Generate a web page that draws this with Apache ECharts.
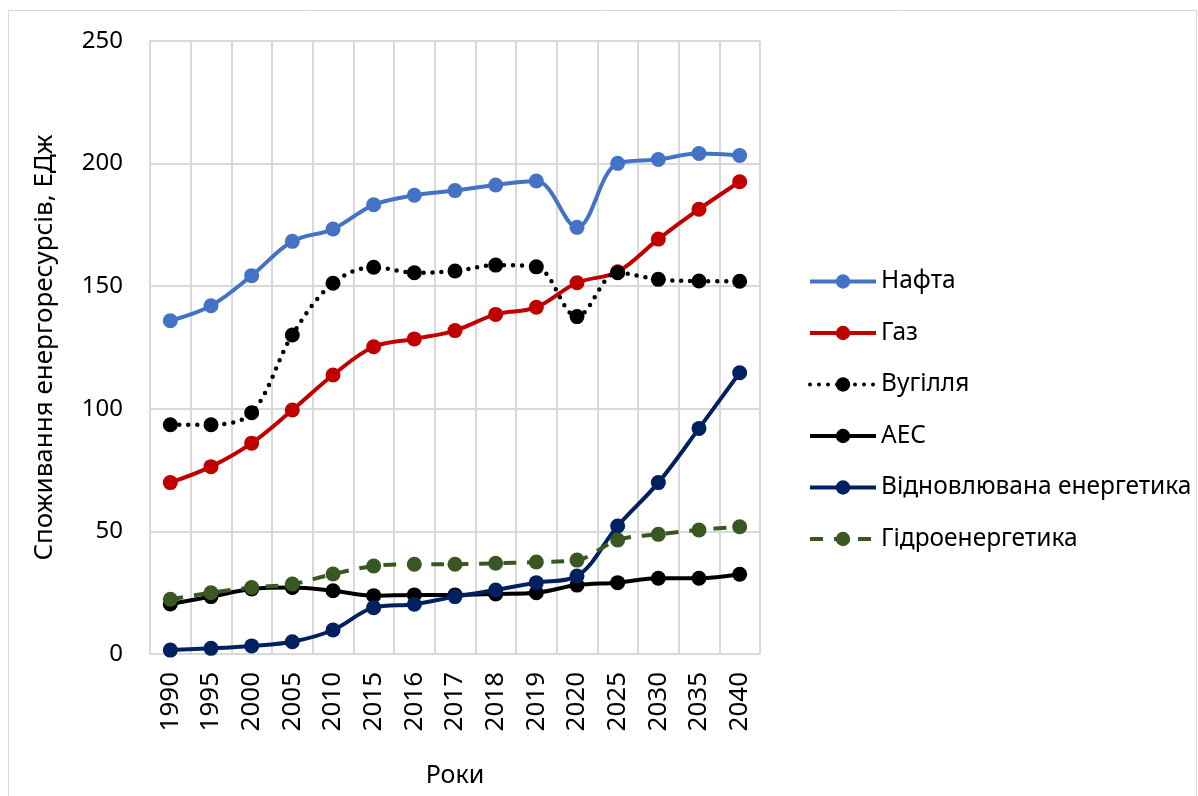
<!DOCTYPE html>
<html><head><meta charset="utf-8">
<script src="https://cdn.jsdelivr.net/npm/echarts@6/dist/echarts.min.js"></script>
<style>html,body{margin:0;padding:0;background:#fff}#c{width:1198px;height:796px}</style>
</head><body><div id="c"></div>
<script>
const years = ['1990','1995','2000','2005','2010','2015','2016','2017','2018','2019','2020','2025','2030','2035','2040'];
const naftaName = 'Нафта';
const nafta = [135.9,142,154.3,168.3,173.3,183.2,187.1,189,191.3,192.9,174,200.1,201.7,204.1,203.3];
const gazName = 'Газ';
const gaz = [69.9,76.4,86,99.5,113.8,125.3,128.5,131.9,138.5,141.4,151.4,155.9,169.2,181.4,192.6];
const coalName = 'Вугілля';
const coal = [93.5,93.5,98.4,130.1,151.2,157.7,155.5,156.2,158.6,157.9,137.6,155.5,152.8,152.1,152];
const aesName = 'АЕС';
const aes = [20.4,23.4,26.5,27.1,25.8,23.8,24.1,24.1,24.5,25,28.1,29.1,30.9,30.9,32.5];
const renName = 'Відновлювана енергетика';
const ren = [1.6,2.3,3.3,5,9.8,18.9,20.3,23.4,26.1,29.1,31.8,52.2,69.9,92,114.7];
const hydroName = 'Гідроенергетика';
const hydro = [22.3,25,27.1,28.5,32.6,35.9,36.6,36.6,37,37.5,38.3,46.5,48.8,50.6,51.9];
const yTicks = [0,50,100,150,200,250];
const xTitle = 'Роки';
const yTitle = 'Споживання енергоресурсів, ЕДж';

const FONT = 'Noto Sans';
const chart = echarts.init(document.getElementById('c'));
function mk(name, data, color, type, cap, width) {
  return {
    name, type: 'line', data, smooth: 0.35,
    symbol: 'circle', symbolSize: 15,
    itemStyle: { color },
    lineStyle: { color, width: width || 4, type: type || 'solid', cap: cap || 'butt' },
    emphasis: { disabled: true }
  };
}
chart.setOption({
  animation: false,
  backgroundColor: '#fff',
  graphic: [{ type: 'rect', shape: { x: 8.5, y: 10.5, width: 1188, height: 800 }, style: { fill: 'none', stroke: '#d9d9d9', lineWidth: 1 }, silent: true }],
  grid: { left: 150, top: 41, width: 610, height: 613, containLabel: false, outerBoundsMode: 'none' },
  legend: {
    orient: 'vertical', left: 803, top: 264, itemWidth: 66, itemHeight: 18, itemGap: 26.5,
    lineStyle: { width: 4 },
    textStyle: { fontFamily: FONT, fontSize: 24.5, color: '#000' },
    data: [naftaName, gazName, coalName, aesName, renName, hydroName]
  },
  xAxis: {
    type: 'category', data: years, boundaryGap: true,
    name: xTitle, nameLocation: 'middle', nameGap: 109,
    nameTextStyle: { fontFamily: FONT, fontSize: 25, color: '#000' },
    axisLine: { lineStyle: { color: '#d9d9d9', width: 2 } },
    axisTick: { show: false },
    axisLabel: { rotate: 90, margin: 18, fontFamily: FONT, fontSize: 26, color: '#000', interval: 0 },
    splitLine: { show: true, interval: 0, lineStyle: { color: '#d9d9d9', width: 2 } }
  },
  yAxis: {
    type: 'value', min: yTicks[0], max: yTicks[yTicks.length - 1], interval: 50,
    name: yTitle, nameLocation: 'middle', nameGap: 92,
    nameTextStyle: { fontFamily: FONT, fontSize: 26, color: '#000' },
    axisLine: { show: true, lineStyle: { color: '#d9d9d9', width: 2 } },
    axisTick: { show: false },
    axisLabel: { margin: 27, fontFamily: FONT, fontSize: 24, color: '#000' },
    splitLine: { lineStyle: { color: '#d9d9d9', width: 2 } }
  },
  series: [
    mk(naftaName, nafta, '#4472C4'),
    mk(gazName, gaz, '#C00000'),
    mk(coalName, coal, '#000000', [0, 9], 'round', 4.5),
    mk(aesName, aes, '#000000'),
    mk(renName, ren, '#002060'),
    mk(hydroName, hydro, '#385723', [13, 11], 'butt', 4)
  ]
});
</script></body></html>
